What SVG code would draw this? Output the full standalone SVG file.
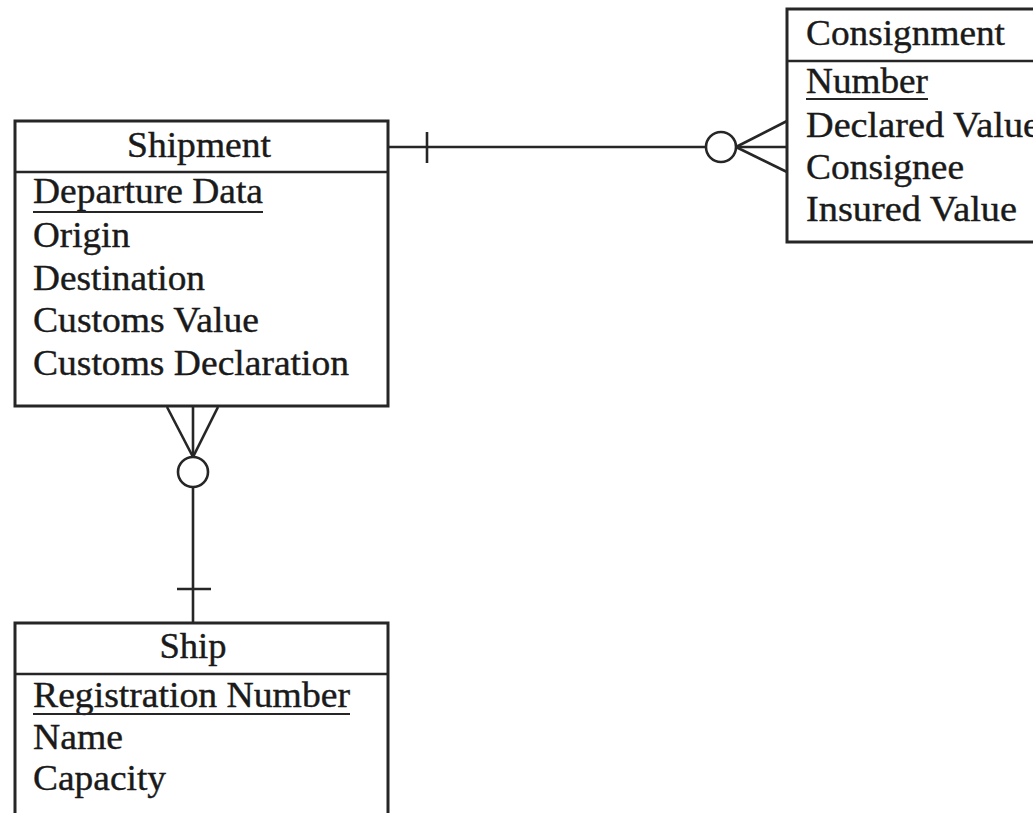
<svg xmlns="http://www.w3.org/2000/svg" width="1033" height="813" viewBox="0 0 1033 813">
<style>
.box{fill:#fff;stroke:#262626;stroke-width:3}
.ln{fill:none;stroke:#262626;stroke-width:2.6}
.ul{stroke:#262626;stroke-width:1.8}
text{font-family:"Liberation Serif","Times New Roman",serif;font-size:36px;fill:#1a1a1a;stroke:#1a1a1a;stroke-width:0.4}
.t{text-anchor:middle}
</style>
<rect width="1033" height="813" fill="#fff"/>
<g id="connectors">
<line class="ln" x1="388" y1="147" x2="706" y2="147"/>
<line class="ln" x1="427" y1="132" x2="427" y2="163"/>
<circle class="ln" cx="721" cy="147" r="15"/>
<line class="ln" x1="736" y1="147" x2="787" y2="121"/>
<line class="ln" x1="736" y1="147" x2="787" y2="147"/>
<line class="ln" x1="736" y1="147" x2="787" y2="172"/>
<line class="ln" x1="167" y1="407" x2="193" y2="457"/>
<line class="ln" x1="193" y1="407" x2="193" y2="457"/>
<line class="ln" x1="218" y1="407" x2="193" y2="457"/>
<circle class="ln" cx="193" cy="472" r="15"/>
<line class="ln" x1="193" y1="487" x2="193" y2="623"/>
<line class="ln" x1="177" y1="589" x2="211" y2="589"/>
</g>
<g id="shipment">
<rect class="box" x="15" y="121" width="373" height="285"/>
<line class="ln" x1="15" y1="172" x2="388" y2="172"/>
<text class="t" x="199" y="157" textLength="144" lengthAdjust="spacingAndGlyphs">Shipment</text>
<text x="33" y="203" textLength="230" lengthAdjust="spacingAndGlyphs">Departure Data</text>
<line class="ul" x1="33" y1="212" x2="263" y2="212"/>
<text x="33" y="247" textLength="97" lengthAdjust="spacingAndGlyphs">Origin</text>
<text x="33" y="290" textLength="172" lengthAdjust="spacingAndGlyphs">Destination</text>
<text x="33" y="332" textLength="226" lengthAdjust="spacingAndGlyphs">Customs Value</text>
<text x="33" y="375" textLength="316" lengthAdjust="spacingAndGlyphs">Customs Declaration</text>
</g>
<g id="consignment">
<rect class="box" x="787" y="9" width="260" height="233"/>
<line class="ln" x1="787" y1="61" x2="1040" y2="61"/>
<text x="806" y="45" textLength="199" lengthAdjust="spacingAndGlyphs">Consignment</text>
<text x="806" y="93" textLength="122" lengthAdjust="spacingAndGlyphs">Number</text>
<line class="ul" x1="806" y1="99" x2="928" y2="99"/>
<text x="806" y="137" textLength="234" lengthAdjust="spacingAndGlyphs">Declared Value</text>
<text x="806" y="179" textLength="158" lengthAdjust="spacingAndGlyphs">Consignee</text>
<text x="806" y="221" textLength="211" lengthAdjust="spacingAndGlyphs">Insured Value</text>
</g>
<g id="ship">
<rect class="box" x="15" y="623" width="373" height="210"/>
<line class="ln" x1="15" y1="674" x2="388" y2="674"/>
<text class="t" x="193" y="658" textLength="67" lengthAdjust="spacingAndGlyphs">Ship</text>
<text x="33" y="707" textLength="317" lengthAdjust="spacingAndGlyphs">Registration Number</text>
<line class="ul" x1="33" y1="714" x2="350" y2="714"/>
<text x="33" y="749" textLength="90" lengthAdjust="spacingAndGlyphs">Name</text>
<text x="33" y="790" textLength="133" lengthAdjust="spacingAndGlyphs">Capacity</text>
</g>
</svg>
